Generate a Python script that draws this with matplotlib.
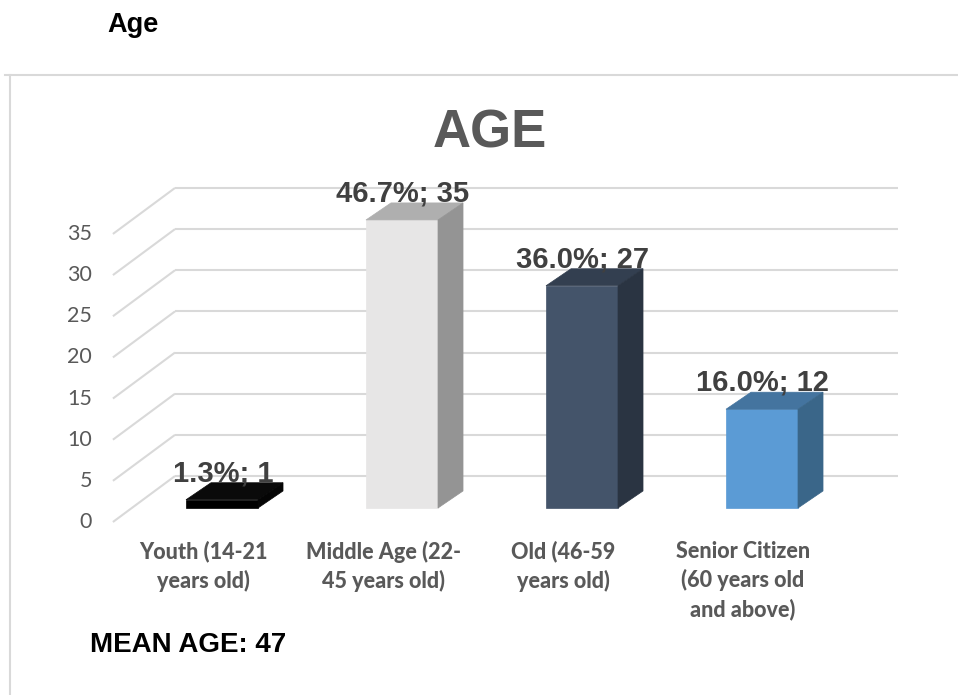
import matplotlib
matplotlib.use("Agg")
import matplotlib.pyplot as plt
from matplotlib.patches import Polygon
from matplotlib.lines import Line2D

# ---------------- data ----------------
categories = ["Youth (14-21\nyears old)", "Middle Age (22-\n45 years old)",
              "Old (46-59\nyears old)", "Senior Citizen\n(60 years old\nand above)"]
counts = [1, 35, 27, 12]
percents = [1.3, 46.7, 36.0, 16.0]
yticks = [0, 5, 10, 15, 20, 25, 30, 35]
front_colors = ["#000000", "#e7e6e6", "#44546a", "#5b9bd5"]
top_colors = ["#0a0a0a", "#afafaf", "#333f50", "#44749f"]
side_colors = ["#050505", "#949494", "#2a3442", "#3a6689"]
title = "AGE"
heading = "Age"
note = "MEAN AGE: 47"

# ---------------- figure ----------------
W, H = 958, 695
fig = plt.figure(figsize=(W / 100, H / 100), dpi=100)
ax = fig.add_axes([0, 0, 1, 1])
ax.axis("off")

# scale: 180 px per category, 8.23 px per unit, bar base at y=508 px, first bar centre x=222 px
ax.set_xlim((0 - 222) / 180, (W - 222) / 180)
ax.set_ylim((508 - H) / 8.23, 508 / 8.23)

# 3-D geometry (in data units)
bw = 0.40                 # bar width
bdx, bdy = 0.139, 2.07    # bar depth offset
fdx, fdy = -0.105, -1.70  # front plane offset from bar plane
kdx, kdy = 0.24, 3.89     # back wall offset from bar plane
x_front_left = -0.606
x_back_left = x_front_left + (kdx - fdx)
x_back_right = 3.756
grid_c = "#d9d9d9"

for v in yticks:
    ax.plot([x_front_left, x_back_left], [v + fdy, v + kdy], color=grid_c, lw=1.5, zorder=1,
            solid_capstyle="butt")
    ax.plot([x_back_left, x_back_right], [v + kdy, v + kdy], color=grid_c, lw=1.5, zorder=1,
            solid_capstyle="butt")
    ax.text(-0.722, v + fdy, str(v), ha="right", va="center", fontsize=15.5,
            family="Lato", color="#595959")

xs = list(range(len(counts)))
ax.bar(xs, counts, width=bw, color=front_colors, edgecolor=front_colors, linewidth=0.5, zorder=3)
for i, v in enumerate(counts):
    l, r = i - bw / 2, i + bw / 2
    top = Polygon([(l, v), (r, v), (r + bdx, v + bdy), (l + bdx, v + bdy)], closed=True,
                  facecolor=top_colors[i], edgecolor=top_colors[i], lw=0.5, zorder=3)
    side = Polygon([(r, 0), (r + bdx, bdy), (r + bdx, v + bdy), (r, v)], closed=True,
                   facecolor=side_colors[i], edgecolor=side_colors[i], lw=0.5, zorder=3)
    ax.add_patch(top)
    ax.add_patch(side)
    ax.text(i + 0.005, v + bdy + 0.15, f"{percents[i]:.1f}%; {v}", ha="center", va="baseline",
            fontsize=21, fontweight="bold", family="Liberation Sans", color="#404040", zorder=5)
    ax.text(i + fdx, -3.95, categories[i], ha="center", va="top", fontsize=15.5,
            fontweight="black", family="Lato", color="#595959", linespacing=1.42)

# texts outside the plot
fig.text(490 / W, 1 - 148 / H, title, ha="center", va="baseline", fontsize=38,
         fontweight="bold", family="Liberation Sans", color="#595959")
fig.text(107 / W, 1 - 32 / H, heading, ha="left", va="baseline", fontsize=19.5,
         fontweight="bold", family="Liberation Sans", color="#000000")
fig.text(90 / W, 1 - 652 / H, note, ha="left", va="baseline", fontsize=20,
         fontweight="bold", family="Liberation Sans", color="#000000")

# chart area border
fig.add_artist(Line2D([5 / W, 1], [1 - 75 / H, 1 - 75 / H], transform=fig.transFigure,
                      color="#d9d9d9", lw=1.5))
fig.add_artist(Line2D([10 / W, 10 / W], [1 - 75 / H, 0], transform=fig.transFigure,
                      color="#d9d9d9", lw=1.5))

fig.savefig("out.png", dpi=100)
